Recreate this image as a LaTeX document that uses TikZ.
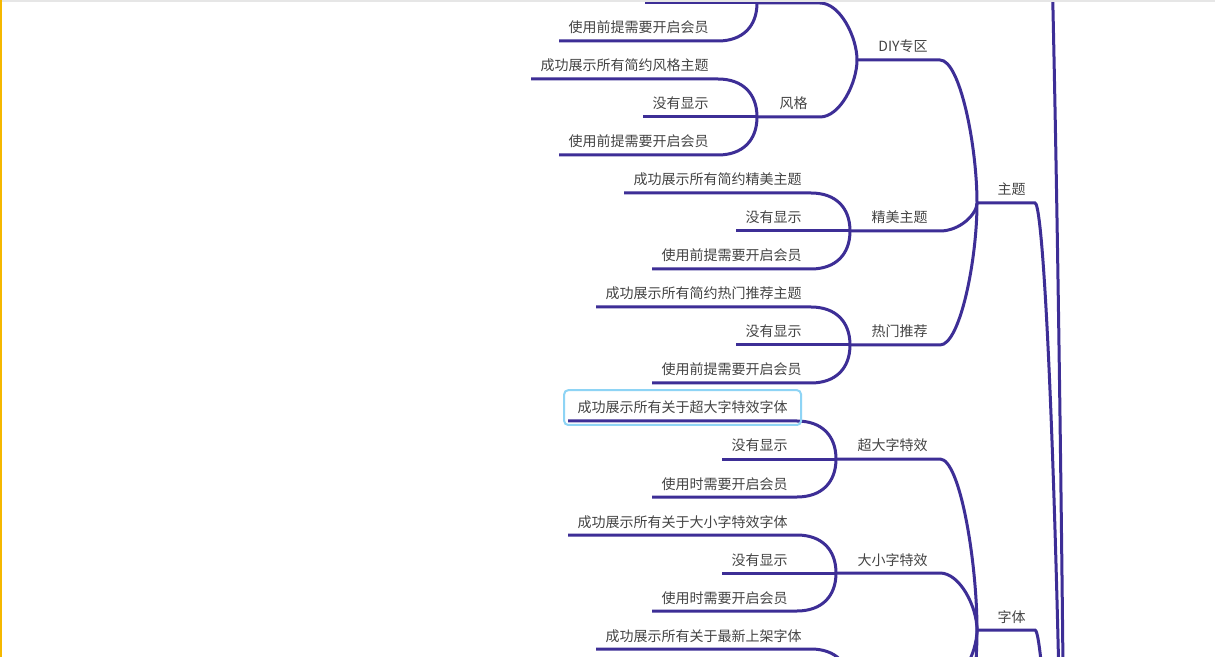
\documentclass[tikz,border=0pt]{standalone}
\usepackage{fontspec}
\setmainfont{Noto Sans CJK SC}
\definecolor{branchcol}{HTML}{3D2E96}
\definecolor{labelcol}{HTML}{444444}
\definecolor{selcol}{HTML}{8ED4F5}
\definecolor{edgegray}{HTML}{E6E6E6}
\definecolor{edgegold}{HTML}{F5B800}
\tikzset{
	topic/.style={anchor=south east, inner ysep=3pt, text height=6.2pt, text depth=0.8pt,
		text=labelcol, font=\fontsize{7pt}{8pt}\selectfont},
	leaf/.style={topic, inner xsep=4.5pt},
	sub/.style={topic, inner xsep=6pt},
	main/.style={topic, inner xsep=4.5pt},
	branch/.style={draw=branchcol, line width=1.5pt},
}
\begin{document}
\begin{tikzpicture}[x=0.5pt, y=-0.5pt]
		\useasboundingbox (0,0) rectangle (1215,657);
		\clip (0,0) rectangle (1215,657);
		\fill[white] (0,0) rectangle (1215,657);
		% junctions
		\coordinate (root) at (1068,1600);
		\coordinate (upE) at (1040,-300);
		\coordinate (ztJ) at (977,203);
		\coordinate (ztiJ) at (977,630);
		\coordinate (diyJ) at (857,60);
		\coordinate (dsJ) at (757,3);
		\coordinate (dsE) at (820,3);
		\coordinate (fgJ) at (757,117);
		\coordinate (jmJ) at (850,231);
		\coordinate (rmJ) at (850,345);
		\coordinate (cdJ) at (836,459);
		\coordinate (dxJ) at (836,573);
		\coordinate (zxJ) at (850,687);
		\coordinate (zxE) at (940,687);
		\coordinate (zyE) at (940,801);
		\coordinate (ds1E) at (718,-35);
		\coordinate (ds2W) at (645,3);
		% main topics
		\node[main] (zt) at (1035,203) {主题};
		\node[main] (zti) at (1035,630) {字体};
		\node[sub] (diy) at (940,60) {DIY专区};
		\node[sub] (jm) at (940,231) {精美主题};
		\node[sub] (rm) at (940,345) {热门推荐};
		\node[sub] (fg) at (820,117) {风格};
		\node[sub] (cd) at (940,459) {超大字特效};
		\node[sub] (dx) at (940,573) {大小字特效};
		% leaves
		\node[leaf] (ds3) at (718,41) {使用前提需要开启会员};
		\node[leaf] (fg1) at (718,79) {成功展示所有简约风格主题};
		\node[leaf] (fg2) at (718,117) {没有显示};
		\node[leaf] (fg3) at (718,155) {使用前提需要开启会员};
		\node[leaf] (jm1) at (811,193) {成功展示所有简约精美主题};
		\node[leaf] (jm2) at (811,231) {没有显示};
		\node[leaf] (jm3) at (811,269) {使用前提需要开启会员};
		\node[leaf] (rm1) at (811,307) {成功展示所有简约热门推荐主题};
		\node[leaf] (rm2) at (811,345) {没有显示};
		\node[leaf] (rm3) at (811,383) {使用前提需要开启会员};
		\node[leaf] (cd1) at (797,421) {成功展示所有关于超大字特效字体};
		\node[leaf] (cd2) at (797,459) {没有显示};
		\node[leaf] (cd3) at (797,497) {使用时需要开启会员};
		\node[leaf] (dx1) at (797,535) {成功展示所有关于大小字特效字体};
		\node[leaf] (dx2) at (797,573) {没有显示};
		\node[leaf] (dx3) at (797,611) {使用时需要开启会员};
		\node[leaf] (zx1) at (811,649) {成功展示所有关于最新上架字体};
		% level 1
		\draw[branch] (upE) .. controls +(12,0) and +(0,-900) .. (root);
		\draw[branch] (ztJ) -- (zt.south east) .. controls +(12,0) and +(0,-900) .. (root);
		\draw[branch] (ztiJ) -- (zti.south east) .. controls +(12,0) and +(0,-500) .. (root);
		% level 2
		\draw[branch] (diyJ) -- (diy.south east) .. controls +(20,0) and +(0,-57) .. (ztJ);
		\draw[branch] (jmJ) -- (jm.south east) .. controls +(20,0) and +(0,11) .. (ztJ);
		\draw[branch] (rmJ) -- (rm.south east) .. controls +(20,0) and +(0,57) .. (ztJ);
		\draw[branch] (cdJ) -- (cd.south east) .. controls +(20,0) and +(0,-68) .. (ztiJ);
		\draw[branch] (dxJ) -- (dx.south east) .. controls +(20,0) and +(0,-23) .. (ztiJ);
		\draw[branch] (zxJ) -- (zxE) .. controls +(20,0) and +(0,23) .. (ztiJ);
		\draw[branch] (zyE) .. controls +(20,0) and +(0,68) .. (ztiJ);
		% level 3
		\draw[branch] (dsJ) -- (dsE) .. controls +(20,0) and +(0,-23) .. (diyJ);
		\draw[branch] (fgJ) -- (fg.south east) .. controls +(20,0) and +(0,23) .. (diyJ);
		\draw[branch] (ds1E) .. controls +(24,0) and +(0,-24) .. (dsJ);
		\draw[branch] (ds2W) -- (dsJ);
		\draw[branch] (ds3.south west) -- (ds3.south east) .. controls +(24,0) and +(0,24) .. (dsJ);
		\foreach \g in {fg,jm,rm,cd,dx}{
			\draw[branch] (\g1.south west) -- (\g1.south east) .. controls +(24,0) and +(0,-24) .. (\g J);
			\draw[branch] (\g2.south west) -- (\g J);
			\draw[branch] (\g3.south west) -- (\g3.south east) .. controls +(24,0) and +(0,24) .. (\g J);
		}
		\draw[branch] (zx1.south west) -- (zx1.south east) .. controls +(24,0) and +(0,-24) .. (zxJ);
		% selected topic
		\draw[selcol, line width=1pt, rounded corners=2pt]
			([shift={(-2pt,-2pt)}]cd1.south west) rectangle ([shift={(2pt,2pt)}]cd1.north east);
		% window edges
		\draw[edgegray, line width=1pt] (0,1) -- (1215,1);
		\draw[edgegold, line width=1pt] (0.5,0) -- (0.5,657);
	\end{tikzpicture}
\end{document}
